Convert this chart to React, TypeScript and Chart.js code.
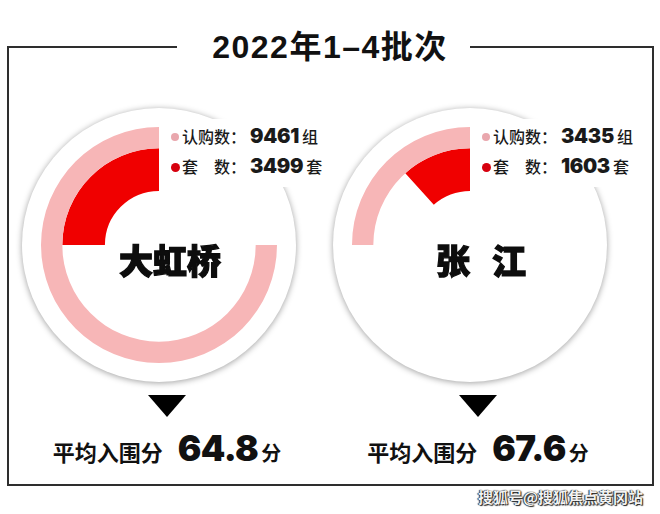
import React, { useEffect, useRef } from "react";
import { Chart, registerables } from "chart.js";

Chart.register(...registerables);

// ---- data ----
const titleText = "2022年1–4批次";
const districts = ["大虹桥", "张 江"];
const subscriptionLabel = "认购数：";
const unitLabel = "套　数：";
const subscriptions = [9461, 3435]; // 认购数 (组)
const housingUnits = [3499, 1603]; // 套数 (套)
const avgScoreLabel = "平均入围分";
const avgScores = [64.8, 67.6];
const outerFullScale = [12615, 13740];
const innerFullScale = [13996, 13740];
const watermark = "搜狐号@搜狐焦点黄冈站";

const PINK = "#F7B6B7";
const RED = "#F00000";
const PINK_DOT = "#E9A7AD";
const RED_DOT = "#D6000E";

const CJK = '"Noto Sans CJK SC", "Noto Sans CJK TC", sans-serif';
const NUM = 'Inter, Lato, "Noto Sans CJK SC", sans-serif';

const centersX = [159, 470];
const centerY = 245;

function Ring({ index }: { index: number }) {
  const ref = useRef<HTMLCanvasElement | null>(null);
  useEffect(() => {
    if (!ref.current) return;
    const outerV = subscriptions[index];
    const innerV = housingUnits[index];
    const chart = new Chart(ref.current, {
      type: "doughnut",
      data: {
        labels: ["", ""],
        datasets: [
          {
            data: [outerFullScale[index] - outerV, outerV],
            backgroundColor: ["rgba(0,0,0,0)", PINK],
            borderWidth: 0,
            weight: 1,
          },
          {
            data: [innerFullScale[index] - innerV, innerV],
            backgroundColor: ["rgba(0,0,0,0)", RED],
            borderWidth: 0,
            weight: 2,
          },
        ],
      },
      options: {
        responsive: false,
        animation: false,
        events: [],
        radius: 118,
        cutout: 55,
        layout: { padding: 0 },
        plugins: { legend: { display: false }, tooltip: { enabled: false } },
      },
    });
    return () => chart.destroy();
  }, [index]);
  const cx = centersX[index];
  return (
    <canvas
      ref={ref}
      width={240}
      height={240}
      style={{ position: "absolute", left: cx - 120, top: centerY - 120, width: 240, height: 240 }}
    />
  );
}

function Panel({ index }: { index: number }) {
  const cx = centersX[index];
  const bx = cx + 8;
  return (
    <>
      <div
        style={{
          position: "absolute",
          left: cx - 137,
          top: centerY - 137,
          width: 274,
          height: 274,
          borderRadius: "50%",
          background: "#fff",
          boxShadow: "0 1px 6px rgba(0,0,0,0.38)",
        }}
      />
      <Ring index={index} />
      {/* legend box */}
      <div
        style={{
          position: "absolute",
          left: cx + 9,
          top: centerY - 126,
          width: 168,
          height: 68,
          background: "#fff",
        }}
      />
      {[0, 1].map((r) => (
        <React.Fragment key={r}>
          <div
            style={{
              position: "absolute",
              left: cx + 16 - (r === 0 ? 4 : 4.5),
              top: centerY - 108 + r * 30 - (r === 0 ? 4 : 4.5),
              width: r === 0 ? 8 : 9,
              height: r === 0 ? 8 : 9,
              borderRadius: "50%",
              background: r === 0 ? PINK_DOT : RED_DOT,
            }}
          />
          <div
            style={{
              position: "absolute",
              left: cx + 23,
              top: centerY - 124 + r * 30,
              height: 30,
              display: "flex",
              alignItems: "baseline",
              whiteSpace: "nowrap",
              color: "#1a1a1a",
            }}
          >
            <span style={{ fontFamily: CJK, fontSize: 16, fontWeight: 500, lineHeight: "30px" }}>
              {r === 0 ? subscriptionLabel : unitLabel}
            </span>
            <span
              style={{
                fontFamily: NUM,
                fontSize: 20,
                fontWeight: 900,
                lineHeight: "30px",
                marginLeft: 4,
                marginRight: 3,
                letterSpacing: -0.3,
              }}
            >
              {r === 0 ? subscriptions[index] : housingUnits[index]}
            </span>
            <span style={{ fontFamily: CJK, fontSize: 16, fontWeight: 500, lineHeight: "30px" }}>
              {r === 0 ? "组" : "套"}
            </span>
          </div>
        </React.Fragment>
      ))}
      {/* center name */}
      <div
        style={{
          position: "absolute",
          left: cx + 11 - 100,
          top: centerY + 15 - 20,
          width: 200,
          height: 40,
          lineHeight: "40px",
          textAlign: "center",
          fontFamily: CJK,
          fontSize: 34,
          fontWeight: 900,
          color: "#0d0d0d",
          WebkitTextStroke: "1.3px #0d0d0d",
          wordSpacing: 14,
          whiteSpace: "pre",
        }}
      >
        {districts[index]}
      </div>
      {/* triangle */}
      <div
        style={{
          position: "absolute",
          left: bx - 19.5,
          top: 395,
          width: 0,
          height: 0,
          borderLeft: "19.5px solid transparent",
          borderRight: "19.5px solid transparent",
          borderTop: "22px solid #000",
        }}
      />
      {/* average score */}
      <div
        style={{
          position: "absolute",
          left: bx - 160,
          top: 428,
          width: 320,
          display: "flex",
          justifyContent: "center",
          alignItems: "baseline",
          whiteSpace: "nowrap",
          color: "#111",
        }}
      >
        <span style={{ fontFamily: CJK, fontSize: 22, fontWeight: 700, lineHeight: "40px" }}>
          {avgScoreLabel}
        </span>
        <span
          style={{
            fontFamily: NUM,
            fontSize: 35,
            fontWeight: 900,
            lineHeight: "40px",
            marginLeft: 15,
            marginRight: 3,
            letterSpacing: -0.5,
          }}
        >
          {avgScores[index].toFixed(1)}
        </span>
        <span style={{ fontFamily: CJK, fontSize: 20, fontWeight: 700, lineHeight: "40px" }}>分</span>
      </div>
    </>
  );
}

export default function App() {
  return (
    <div
      style={{
        position: "absolute",
        left: 0,
        top: 0,
        width: 660,
        height: 514,
        background: "#fff",
        overflow: "hidden",
      }}
    >
      {/* frame */}
      <div
        style={{
          position: "absolute",
          left: 7,
          top: 46,
          width: 647,
          height: 440,
          boxSizing: "border-box",
          border: "2px solid #2e2e2e",
        }}
      />
      <div style={{ position: "absolute", left: 177, top: 43, width: 293, height: 8, background: "#fff" }} />
      <div
        style={{
          position: "absolute",
          left: 0,
          top: 29,
          width: 660,
          textAlign: "center",
          fontFamily: '"Liberation Sans", "Noto Sans CJK SC", sans-serif',
          fontSize: 32,
          fontWeight: 700,
          lineHeight: "36px",
          letterSpacing: 1.5,
          color: "#111",
          whiteSpace: "nowrap",
        }}
      >
        {titleText}
      </div>
      <Panel index={0} />
      <Panel index={1} />
      <div
        style={{
          position: "absolute",
          right: 17,
          top: 487,
          fontFamily: CJK,
          fontSize: 15,
          fontWeight: 700,
          lineHeight: "20px",
          color: "#f2f2f2",
          textShadow: "0 0 1px #000, 1px 1px 1px #222, -1px 0 1px #444",
          whiteSpace: "nowrap",
        }}
      >
        {watermark}
      </div>
    </div>
  );
}
